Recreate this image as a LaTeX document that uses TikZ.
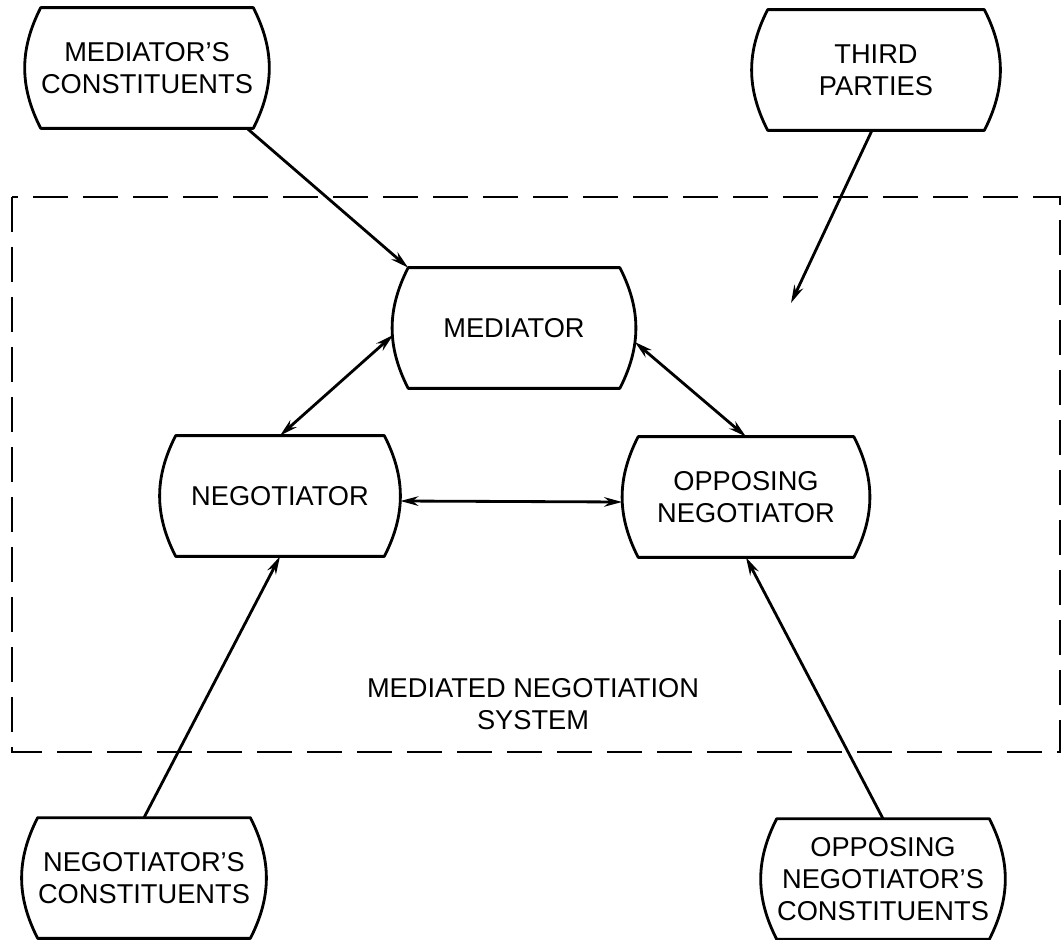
\documentclass[tikz,border=0pt]{standalone}
\usepackage{fontspec}
\setmainfont{Liberation Sans}
\usepackage{tikz}
\usetikzlibrary{arrows.meta}
\tikzset{
party/.style={
    rectangle,
    inner sep=0pt,
    minimum height=2.4cm,
    minimum width=4.2cm,
    align=center,
    font=\fontsize{15.5}{18.2}\selectfont
},
outline/.style={
    draw=black,
    line width=1.6pt,
    line join=round,
    line cap=round
}}

\begin{document}
\begin{tikzpicture}[
        >={Stealth[length=3.6mm, width=1.9mm]},
        link/.style={line width=1.6pt}
    ]
    \useasboundingbox (0,0) rectangle (21.28,-18.8);

    % system boundary
    \draw[line width=1.6pt, dash pattern=on 0.7cm off 0.3cm] (0.24,-3.94) rectangle (21.2,-15.04);
    \node[font=\fontsize{15.5}{18.2}\selectfont, align=center] (sys) at (10.66,-14.08) {MEDIATED NEGOTIATION\\SYSTEM};

    % node placement
    \node[party] (medcon) at (2.94,-1.36) {MEDIATOR'S\\CONSTITUENTS};
    \node[party, minimum width=4.32cm] (third) at (17.52,-1.4) {THIRD\\PARTIES};
    \node[party, minimum width=4.22cm] (med) at (10.28,-6.56) {MEDIATOR};
    \node[party, minimum width=4.16cm] (neg) at (5.6,-9.92) {NEGOTIATOR};
    \node[party, minimum width=4.3cm] (opp) at (14.92,-9.94) {OPPOSING\\NEGOTIATOR};
    \node[party, minimum width=4.24cm] (negcon) at (2.88,-17.56) {NEGOTIATOR'S\\CONSTITUENTS};
    \node[party, minimum width=4.1cm] (oppcon) at (17.66,-17.58) {OPPOSING\\NEGOTIATOR'S\\CONSTITUENTS};
    \coordinate (thirdin) at (15.82,-6.06);

    % outlines: flat top and bottom, bulging sides
    \foreach \n in {medcon,third,med,neg,opp,negcon,oppcon}
        \draw[outline] (\n.north west) -- (\n.north east) to[bend left=27] (\n.south east)
            -- (\n.south west) to[bend left=27] (\n.north west) -- cycle;

    % edges
    \draw[->, link] ([xshift=2cm]medcon.south) -- (med.north west);
    \draw[->, link] ([xshift=-0.08cm]third.south) -- (thirdin);
    \draw[<->, link] ([xshift=-0.3cm, yshift=-0.14cm]med.west) -- (neg.north);
    \draw[<->, link] ([xshift=0.3cm, yshift=-0.28cm]med.east) -- (opp.north);
    \draw[<->, link] ([xshift=0.32cm, yshift=-0.1cm]neg.east) -- ([xshift=-0.32cm, yshift=-0.1cm]opp.west);
    \draw[->, link] (negcon.north) -- (neg.south);
    \draw[->, link] (oppcon.north) -- (opp.south);

\end{tikzpicture}
\end{document}
